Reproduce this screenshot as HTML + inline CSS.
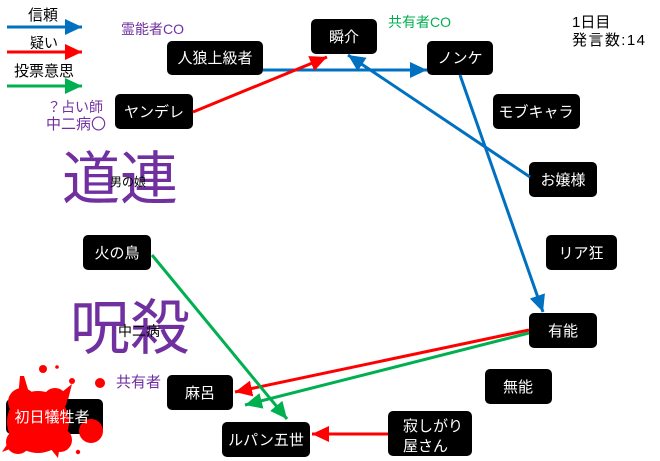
<!DOCTYPE html>
<html><head><meta charset="utf-8">
<style>
html,body{margin:0;padding:0;background:#fff;}
svg{display:block;}
text{font-family:"Liberation Sans","Noto Sans CJK JP",sans-serif;}
</style></head>
<body>
<svg width="660" height="461" viewBox="0 0 660 461" xmlns="http://www.w3.org/2000/svg">
<defs>
<marker id="mb" markerUnits="userSpaceOnUse" markerWidth="18" markerHeight="16" refX="17" refY="8" orient="auto"><path d="M0,0 L17,8 L0,16 z" fill="#0070c0"/></marker>
<marker id="mr" markerUnits="userSpaceOnUse" markerWidth="18" markerHeight="16" refX="17" refY="8" orient="auto"><path d="M0,0 L17,8 L0,16 z" fill="#ff0000"/></marker>
<marker id="mg" markerUnits="userSpaceOnUse" markerWidth="18" markerHeight="16" refX="17" refY="8" orient="auto"><path d="M0,0 L17,8 L0,16 z" fill="#00b050"/></marker>
</defs>

<!-- legend -->
<text x="28" y="20" font-size="15" fill="#000">信頼</text>
<line x1="7" y1="27" x2="82" y2="27" stroke="#0070c0" stroke-width="3" marker-end="url(#mb)"/>
<text x="30" y="48" font-size="14" fill="#000">疑い</text>
<line x1="7" y1="52" x2="82" y2="52" stroke="#ff0000" stroke-width="3" marker-end="url(#mr)"/>
<text x="14" y="76" font-size="15" fill="#000">投票意思</text>
<line x1="7" y1="86" x2="82" y2="86" stroke="#00b050" stroke-width="3" marker-end="url(#mg)"/>

<!-- labels -->
<text x="121" y="34" font-size="14" fill="#7030a0">霊能者CO</text>
<text x="47" y="112" font-size="14" fill="#7030a0">？占い師</text>
<text x="46" y="129" font-size="15" fill="#7030a0">中二病〇</text>
<text x="388" y="27" font-size="14" fill="#00b050">共有者CO</text>
<text x="572" y="27" font-size="15" fill="#000">1日目</text>
<text x="572" y="45" font-size="15" fill="#000" textLength="73" lengthAdjust="spacing">発言数:14</text>

<text x="62" y="199" font-size="58" fill="#7030a0">道連</text>
<text x="110" y="186" font-size="12" fill="#000">男の娘</text>
<text x="70" y="349" font-size="60" fill="#7030a0">呪殺</text>
<text x="118" y="336" font-size="14" fill="#000">中二病</text>
<text x="116" y="387" font-size="15" fill="#7030a0">共有者</text>

<!-- nodes -->
<g fill="#000">
<rect x="167" y="41" width="96" height="34" rx="5"/>
<rect x="311" y="19" width="66" height="35" rx="5"/>
<rect x="427" y="41" width="66" height="34" rx="5"/>
<rect x="115" y="94" width="78" height="35" rx="5"/>
<rect x="493" y="94" width="87" height="35" rx="5"/>
<rect x="529" y="162" width="68" height="35" rx="5"/>
<rect x="83" y="235" width="68" height="35" rx="5"/>
<rect x="546" y="235" width="71" height="35" rx="5"/>
<rect x="529" y="313" width="68" height="35" rx="5"/>
<rect x="485" y="369" width="67" height="35" rx="5"/>
<rect x="167" y="375" width="66" height="35" rx="5"/>
<rect x="6" y="399" width="97" height="35" rx="5"/>
<rect x="222" y="422" width="88" height="35" rx="5"/>
<rect x="388" y="411" width="84" height="45" rx="5"/>
</g>

<!-- blood splatter -->
<g fill="#ff0000">
<circle cx="38" cy="422" r="31"/>
<circle cx="22" cy="402" r="14"/>
<circle cx="55" cy="400" r="12"/>
<circle cx="60" cy="440" r="12"/>
<circle cx="18" cy="442" r="12"/>
<path d="M20,376 L24,376 L30,396 L18,398 Z"/>
<path d="M62,392 L72,384 L68,400 Z"/>
<path d="M10,440 L2,452 L18,446 Z"/>
<path d="M50,448 L58,458 L60,444 Z"/>
<circle cx="91" cy="431" r="12"/>
<circle cx="43" cy="369" r="4"/>
<circle cx="57" cy="367" r="1.8"/>
<circle cx="72" cy="381" r="3"/>
<circle cx="100" cy="383" r="5"/>
<circle cx="78" cy="452" r="2.2"/>
</g>

<!-- node text -->
<g font-size="15" fill="#fff" text-anchor="middle">
<text x="215" y="63">人狼上級者</text>
<text x="344" y="42">瞬介</text>
<text x="460" y="63">ノンケ</text>
<text x="154" y="117">ヤンデレ</text>
<text x="536" y="117">モブキャラ</text>
<text x="563" y="185">お嬢様</text>
<text x="117" y="258">火の鳥</text>
<text x="581" y="258">リア狂</text>
<text x="563" y="336">有能</text>
<text x="518" y="392">無能</text>
<text x="200" y="398">麻呂</text>
<text x="52" y="422">初日犠牲者</text>
<text x="266" y="445">ルパン五世</text>
</g>
<g font-size="15" fill="#fff">
<text x="403" y="431">寂しがり</text>
<text x="403" y="451">屋さん</text>
</g>

<!-- connectors -->
<line x1="263" y1="70" x2="427" y2="70" stroke="#0070c0" stroke-width="3" marker-end="url(#mb)"/>
<line x1="193" y1="112" x2="327" y2="57" stroke="#ff0000" stroke-width="3" marker-end="url(#mr)"/>
<line x1="530" y1="177" x2="348" y2="55" stroke="#0070c0" stroke-width="3" marker-end="url(#mb)"/>
<line x1="460" y1="75" x2="543" y2="312" stroke="#0070c0" stroke-width="3" marker-end="url(#mb)"/>
<line x1="529" y1="330" x2="235" y2="392" stroke="#ff0000" stroke-width="3" marker-end="url(#mr)"/>
<line x1="529" y1="333" x2="245" y2="405" stroke="#00b050" stroke-width="3" marker-end="url(#mg)"/>
<line x1="152" y1="255" x2="287" y2="419" stroke="#00b050" stroke-width="3" marker-end="url(#mg)"/>
<line x1="388" y1="434" x2="312" y2="434" stroke="#ff0000" stroke-width="3" marker-end="url(#mr)"/>
</svg>
</body></html>
